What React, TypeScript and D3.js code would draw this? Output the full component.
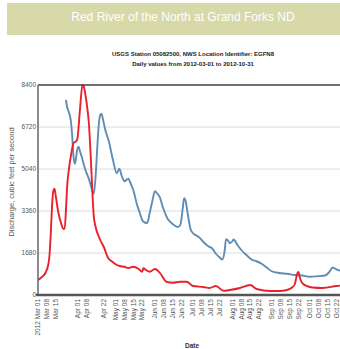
import React from "react";
import * as d3 from "d3";

// Daily discharge, 2012 (cfs)
const flowDates = [
  "2012-03-01","2012-03-04","2012-03-07","2012-03-09","2012-03-10","2012-03-11","2012-03-12","2012-03-13",
  "2012-03-14","2012-03-15","2012-03-17","2012-03-19","2012-03-21","2012-03-22","2012-03-23","2012-03-24",
  "2012-03-25","2012-03-27","2012-03-29","2012-03-31","2012-04-01","2012-04-03","2012-04-05","2012-04-06",
  "2012-04-07","2012-04-09","2012-04-10","2012-04-12","2012-04-13","2012-04-14","2012-04-15","2012-04-19",
  "2012-04-22","2012-04-25","2012-04-28","2012-05-02","2012-05-05","2012-05-08","2012-05-11","2012-05-15",
  "2012-05-19","2012-05-22","2012-05-23","2012-05-25","2012-05-28","2012-06-01","2012-06-05","2012-06-08",
  "2012-06-10","2012-06-15","2012-06-21","2012-06-26","2012-07-01","2012-07-09","2012-07-14","2012-07-19",
  "2012-07-25","2012-07-30","2012-08-07","2012-08-15","2012-08-20","2012-08-31","2012-09-07","2012-09-13",
  "2012-09-17","2012-09-19","2012-09-20","2012-09-21","2012-09-22","2012-09-23","2012-09-24","2012-09-26",
  "2012-09-29","2012-10-03","2012-10-11","2012-10-22","2012-10-31",
];
const flowValues = [
  600, 720, 900, 1200, 1550, 2400, 3500, 4150,
  4250, 3950, 3300, 2900, 2650, 2650, 3400, 4400,
  4900, 5600, 6080, 6150, 6250, 7400, 8400, 8350,
  8100, 7400, 6900, 5000, 3900, 3100, 2800, 2200,
  1900, 1500, 1350, 1200, 1150, 1130, 1080, 1130,
  1050, 930, 1070, 1000, 930, 1040, 880, 650,
  530, 490, 530, 530, 360, 320, 280, 360,
  170, 200, 280, 400, 240, 160, 160, 200,
  300, 420, 620, 850, 920, 720, 560, 430,
  350, 300, 280, 360, 400,
];

// Comparison series (cfs)
const refDates = [
  "2012-03-23","2012-03-24","2012-03-25","2012-03-26","2012-03-27","2012-03-28","2012-03-29","2012-03-30",
  "2012-03-31","2012-04-01","2012-04-02","2012-04-03","2012-04-04","2012-04-07","2012-04-10","2012-04-13",
  "2012-04-14","2012-04-16","2012-04-17","2012-04-18","2012-04-19","2012-04-20","2012-04-21","2012-04-23",
  "2012-04-26","2012-04-29","2012-05-02","2012-05-04","2012-05-06","2012-05-08","2012-05-11","2012-05-13",
  "2012-05-15","2012-05-18","2012-05-20","2012-05-22","2012-05-24","2012-05-26","2012-05-28","2012-05-30",
  "2012-06-01","2012-06-03","2012-06-05","2012-06-07","2012-06-09","2012-06-11","2012-06-13","2012-06-16",
  "2012-06-19","2012-06-21","2012-06-23","2012-06-24","2012-06-25","2012-06-27","2012-06-29","2012-07-01",
  "2012-07-03","2012-07-06","2012-07-09","2012-07-13","2012-07-16","2012-07-19","2012-07-22","2012-07-24",
  "2012-07-26","2012-07-27","2012-07-29","2012-07-30","2012-08-01","2012-08-02","2012-08-05","2012-08-08",
  "2012-08-12","2012-08-16","2012-08-20","2012-08-24","2012-08-28","2012-09-01","2012-09-07","2012-09-13",
  "2012-09-19","2012-09-25","2012-10-01","2012-10-07","2012-10-13","2012-10-16","2012-10-19","2012-10-21",
  "2012-10-23","2012-10-27","2012-10-31",
];
const refValues = [
  7800, 7500, 7350, 7200, 6900, 6300, 5500, 5250,
  5500, 5850, 5930, 5750, 5600, 5050, 4650, 4150,
  4050, 5300, 6200, 6900, 7200, 7250, 7050, 6600,
  6100, 5400, 4870, 5050, 4750, 4550, 4650, 4450,
  4200, 3600, 3300, 3000, 2900, 2880, 3300, 3750,
  4150, 4050, 3900, 3550, 3280, 3050, 2930, 2800,
  2720, 2800, 3500, 3870, 3800, 3200, 2650, 2470,
  2400, 2300, 2130, 1950, 1870, 1650, 1500, 1420,
  1800, 2230, 2150, 2070, 2150, 2220, 2000, 1800,
  1600, 1420, 1350, 1250, 1100, 950, 880, 850,
  800, 780, 730, 750, 780, 900, 1100, 1050,
  1000, 950, 900,
];

const yTicks = [0, 1680, 3360, 5040, 6720, 8400];
const xTickDates = [
  "2012-03-01","2012-03-08","2012-03-15","2012-04-01","2012-04-08","2012-04-22",
  "2012-05-01","2012-05-08","2012-05-15","2012-05-22","2012-06-01","2012-06-08",
  "2012-06-15","2012-06-22","2012-07-01","2012-07-08","2012-07-15","2012-07-22",
  "2012-08-01","2012-08-08","2012-08-15","2012-08-22","2012-09-01","2012-09-08",
  "2012-09-15","2012-09-22","2012-10-01","2012-10-08","2012-10-15","2012-10-22",
];

const titleText = "Red River of the North at Grand Forks ND";
const subtitle1 = "USGS Station 05082500, NWS Location Identifier: EGFN8";
const subtitle2 = "Daily values from 2012-03-01 to 2012-10-31";

const W = 340;
const H = 349;
const left = 38;
const right = 348;
const top = 85;
const bottom = 295;
const font = "'Liberation Sans', Arial, sans-serif";

export default function App() {
  const parse = d3.timeParse("%Y-%m-%d");
  const x = d3
    .scaleTime()
    .domain([parse("2012-03-01")!, parse("2012-10-31")!])
    .range([left, right]);
  const y = d3.scaleLinear().domain([0, 8400]).range([bottom, top]);

  const line = d3
    .line<[Date, number]>()
    .x((d) => x(d[0]))
    .y((d) => y(d[1]))
    .curve(d3.curveMonotoneX);

  const flow: [Date, number][] = flowDates.map((d, i) => [parse(d)!, flowValues[i]]);
  const ref: [Date, number][] = refDates.map((d, i) => [parse(d)!, refValues[i]]);
  const fmt = d3.timeFormat("%b %d");

  return (
    <svg
      width={W}
      height={H}
      style={{ position: "absolute", left: 0, top: 0, background: "#fff" }}
      fontFamily={font}
    >
      <defs>
        <clipPath id="plot">
          <rect x={left} y={top - 2} width={right - left} height={bottom - top + 2} />
        </clipPath>
      </defs>
      <rect x={7} y={3} width={W - 7} height={32} fill="#d7d9a9" />
      <text x={183} y={21} textAnchor="middle" fill="#fff" fontSize={12}>
        {titleText}
      </text>
      <text x={193} y={56} textAnchor="middle" fill="#222" fontSize={6} fontWeight="bold">
        {subtitle1}
      </text>
      <text x={193} y={66} textAnchor="middle" fill="#222" fontSize={6} fontWeight="bold">
        {subtitle2}
      </text>

      {yTicks.map((t) => (
        <g key={t}>
          {t > 0 && (
            <line x1={left} x2={right} y1={y(t)} y2={y(t)} stroke="#dcdcdc" strokeWidth={1} />
          )}
          <text x={36} y={y(t)} dy="0.35em" textAnchor="end" fontSize={6.5} fill="#555">
            {t}
          </text>
        </g>
      ))}

      <g clipPath="url(#plot)">
        <path d={line(ref)!} fill="none" stroke="#5f8db3" strokeWidth={1.9} />
        <path d={line(flow)!} fill="none" stroke="#e8222c" strokeWidth={1.9} />
      </g>

      <line x1={left} x2={right} y1={top} y2={top} stroke="#444" strokeWidth={1.5} />
      <line x1={left} x2={left} y1={top} y2={bottom} stroke="#666" strokeWidth={1.5} />
      <line x1={left - 2} x2={right} y1={bottom} y2={bottom} stroke="#555" strokeWidth={2.5} />

      {xTickDates.map((d, i) => {
        const dt = parse(d)!;
        const label = i === 0 ? "2012 " + fmt(dt) : fmt(dt);
        return (
          <text
            key={d}
            transform={`translate(${x(dt)},299) rotate(-90)`}
            dy="0.35em"
            textAnchor="end"
            fontSize={6.5}
            fill="#555"
          >
            {label}
          </text>
        );
      })}

      <text
        transform={`translate(11,182) rotate(-90)`}
        textAnchor="middle"
        dy="0.35em"
        fontSize={7.5}
        fill="#555"
      >
        Discharge, cubic feet per second
      </text>
      <text x={192} y={348} textAnchor="middle" fontSize={6.5} fill="#333" fontWeight="bold">
        Date
      </text>
    </svg>
  );
}
